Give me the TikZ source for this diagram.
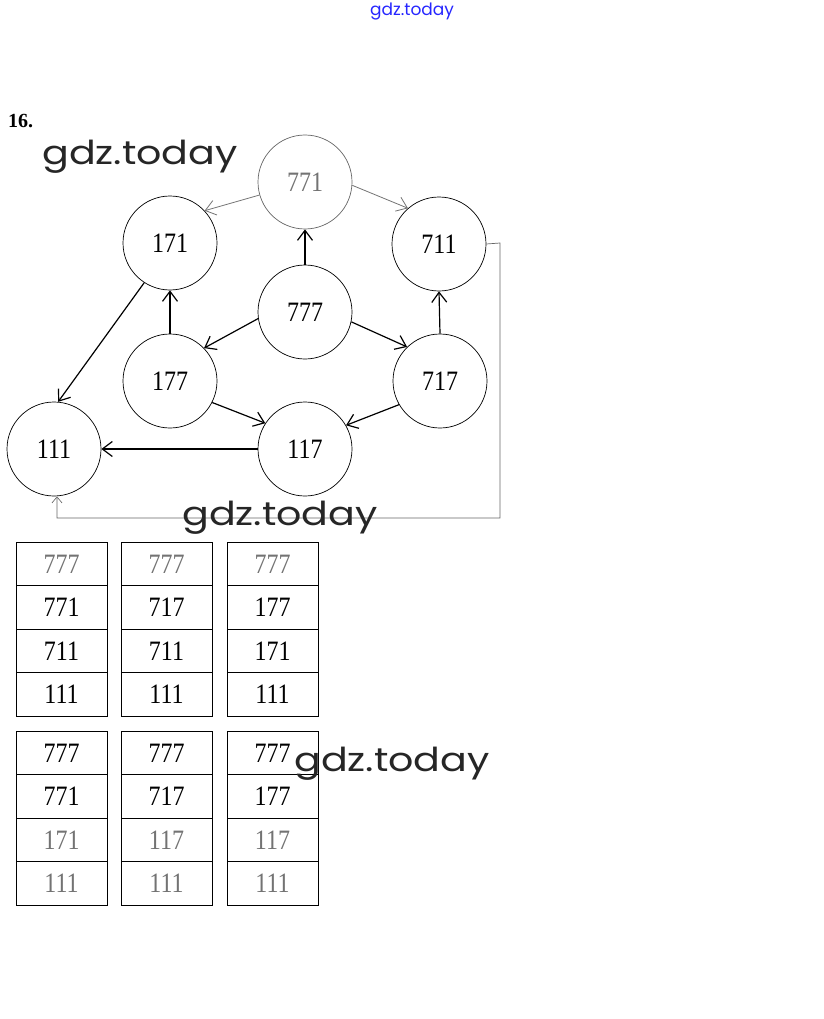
\documentclass[tikz,border=0pt]{standalone}
\usepackage{fontspec}
\usepackage{graphicx}
\setmainfont{Liberation Serif}
\newfontfamily\wmfont{Poppins}
\newcommand\tnum[1]{\scalebox{1}[1.17]{#1}}
\newcommand\wmtext[1]{\scalebox{1.2}[1]{#1}}
\usetikzlibrary{arrows.meta}
\begin{document}
\begin{tikzpicture}[x=1pt,y=-1pt,
  st/.style={circle, draw, minimum size=94pt, inner sep=0pt, line width=0.7pt, font=\fontsize{24}{24}\selectfont},
  arr/.style={-{Straight Barb[length=10pt,width=15pt]}, line width=1.2pt},
  garr/.style={arr, draw=black!55, line width=0.8pt},
  cell/.style={rectangle, draw, minimum width=91pt, minimum height=43.5pt, inner sep=0pt, line width=0.7pt, font=\fontsize{24}{24}\selectfont},
  wm/.style={font=\wmfont\fontsize{33}{33}\selectfont, text=black!85, inner sep=0pt, anchor=base},
  faint/.style={text=black!55}]
\useasboundingbox (0,0) rectangle (823,1019);

\node[font=\wmfont\fontsize{17}{17}\selectfont, text=blue!85, inner sep=0pt] (wtop) at (412,12) {gdz.today};
\node[font=\bfseries\fontsize{20}{20}\selectfont, inner sep=0pt, anchor=base west] (num) at (8,128) {16.};

% graph nodes
\node[st, draw=black!60, faint] (n771) at (305,182) {\tnum{771}};
\node[st] (n171) at (170,243) {\tnum{171}};
\node[st] (n711) at (439,244) {\tnum{711}};
\node[st] (n777) at (305,312) {\tnum{777}};
\node[st] (n177) at (170,381) {\tnum{177}};
\node[st] (n717) at (440,381) {\tnum{717}};
\node[st] (n111) at (54,449) {\tnum{111}};
\node[st] (n117) at (305,449) {\tnum{117}};

% edges
\draw[garr] (n771.196) -- (n171.43);
\draw[garr] (n771.356) -- (n711.131);
\draw[arr] (n777.north) -- (n771.south);
\draw[arr] (n777.188) -- (n177.44);
\draw[arr] (n777.348) -- (n717.134);
\draw[arr] (n177.north) -- (n171.south);
\draw[arr] (n717.north) -- (n711.south);
\draw[arr] (n177.333) -- (n117.147);
\draw[arr] (n717.210) -- (n117.30);
\draw[arr] (n117.west) -- (n111.east);
\draw[arr] (n171.237) -- (n111.85);
\coordinate (r1) at (500,243);
\coordinate (r2) at (500,518);
\coordinate (r3) at (57,518);
\draw[-{Straight Barb[length=6pt,width=10pt]}, draw=black!60, line width=0.7pt]
  (n711.east) -- (r1) -- (r2) -- (r3) -- (r3 |- n111.south);

% tables
\foreach \col/\x/\a/\b/\c in {1/61.5/771/711/111, 2/166.5/717/711/111, 3/272.5/177/171/111}{
  \node[cell, faint] (ta\col r1) at (\x,564) {\tnum{777}};
  \node[cell] (ta\col r2) at (\x,607.5) {\tnum{\a}};
  \node[cell] (ta\col r3) at (\x,651) {\tnum{\b}};
  \node[cell] (ta\col r4) at (\x,694.5) {\tnum{\c}};
}
\foreach \col/\x/\a/\b/\c in {1/61.5/771/171/111, 2/166.5/717/117/111, 3/272.5/177/117/111}{
  \node[cell] (tb\col r1) at (\x,753) {\tnum{777}};
  \node[cell] (tb\col r2) at (\x,796.5) {\tnum{\a}};
  \node[cell, faint] (tb\col r3) at (\x,840) {\tnum{\b}};
  \node[cell, faint] (tb\col r4) at (\x,883.5) {\tnum{\c}};
}

% watermarks
\node[wm] (w1) at (140,165) {\wmtext{gdz.today}};
\node[wm] (w2) at (280,525) {\wmtext{gdz.today}};
\node[wm] (w3) at (392,771) {\wmtext{gdz.today}};
\end{tikzpicture}
\end{document}
